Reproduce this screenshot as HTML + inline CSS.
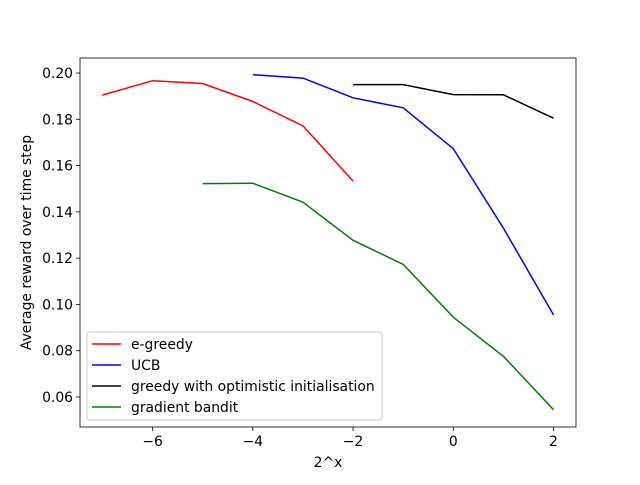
<!DOCTYPE html>
<html><head><meta charset="utf-8"><style>
body{margin:0;background:#fff}
svg text{font-family:"DejaVu Sans","Liberation Sans",sans-serif;font-size:13.9px;fill:#000}
</style></head><body>
<svg id="chart" width="640" height="480" xmlns="http://www.w3.org/2000/svg">
<rect x="0" y="0" width="640" height="480" fill="#fff"/>
<g id="plot"></g>
</svg>
<script>
const xTicks=[-6,-4,-2,0,2];
const yTicks=[0.06,0.08,0.10,0.12,0.14,0.16,0.18,0.20];
const seriesNames=["e-greedy","UCB","greedy with optimistic initialisation","gradient bandit"];
const seriesColors=["red","blue","black","green"];
const egreedyX=[-7,-6,-5,-4,-3,-2];
const egreedyY=[0.1905,0.1967,0.1955,0.1877,0.1772,0.1533];
const ucbX=[-4,-3,-2,-1,0,1,2];
const ucbY=[0.1993,0.1978,0.1893,0.1850,0.1673,0.1330,0.0955];
const greedyX=[-2,-1,0,1,2];
const greedyY=[0.1950,0.1950,0.1907,0.1906,0.1805];
const gradX=[-5,-4,-3,-2,-1,0,1,2];
const gradY=[0.1522,0.1524,0.1442,0.1277,0.1173,0.0945,0.0776,0.0545];

const L=80,R=576,T=58,B=427;
const xmin=-7.45,xmax=2.45;
const yAt06=397,pxPerUnit=2314;
const sx=v=>L+(v-xmin)/(xmax-xmin)*(R-L);
const sy=v=>yAt06-(v-0.06)*pxPerUnit;
const NS="http://www.w3.org/2000/svg";
const g=document.getElementById('plot');
function mk(t,a,p){const e=document.createElementNS(NS,t);for(const k in a)e.setAttribute(k,a[k]);(p||g).appendChild(e);return e;}

xTicks.forEach(v=>{
 const x=sx(v);
 const tk=mk('line',{x1:x,x2:x,y1:B,y2:B+4,stroke:'#000','stroke-width':0.8});
 
 
 const t=mk('text',{x:x,y:B+19,'text-anchor':'middle'});
 t.textContent=(v<0?'\u2212'+(-v):String(v));
 
 
});
yTicks.forEach(v=>{
 const y=sy(v);
 const tk=mk('line',{x1:L-4,x2:L,y1:y,y2:y,stroke:'#000','stroke-width':0.8});
 
 
 const t=mk('text',{x:L-7,y:y+5,'text-anchor':'end'});
 t.textContent=v.toFixed(2);
 
 
});
const xs=[egreedyX,ucbX,greedyX,gradX], ys=[egreedyY,ucbY,greedyY,gradY];
xs.forEach((X,i)=>{
 const pts=X.map((x,j)=>sx(x).toFixed(1)+','+sy(ys[i][j]).toFixed(1)).join(' ');
 const pl=mk('polyline',{points:pts,fill:'none',stroke:seriesColors[i],'stroke-width':1.5});
 
 
});
const frame=mk('rect',{x:L,y:T,width:R-L,height:B-T,fill:'none',stroke:'#000','stroke-width':0.8});


const xt=mk('text',{x:(L+R)/2,y:467,'text-anchor':'middle'});
xt.textContent='2^x';


const yt=mk('text',{x:0,y:0,'text-anchor':'middle',transform:'translate(31,'+((T+B)/2)+') rotate(-90)'});
yt.textContent='Average reward over time step';


const lg=mk('rect',{x:87,y:332,width:295,height:88,rx:3,fill:'#fff','fill-opacity':0.8,stroke:'#ccc','stroke-width':1});


seriesNames.forEach((n,i)=>{
 const y=344+i*21;
 const ln=mk('line',{x1:92,x2:121,y1:y,y2:y,stroke:seriesColors[i],'stroke-width':1.5});
 
 
 const t=mk('text',{x:131,y:y+5});
 t.textContent=n;
 
 
});
</script>
</body></html>
